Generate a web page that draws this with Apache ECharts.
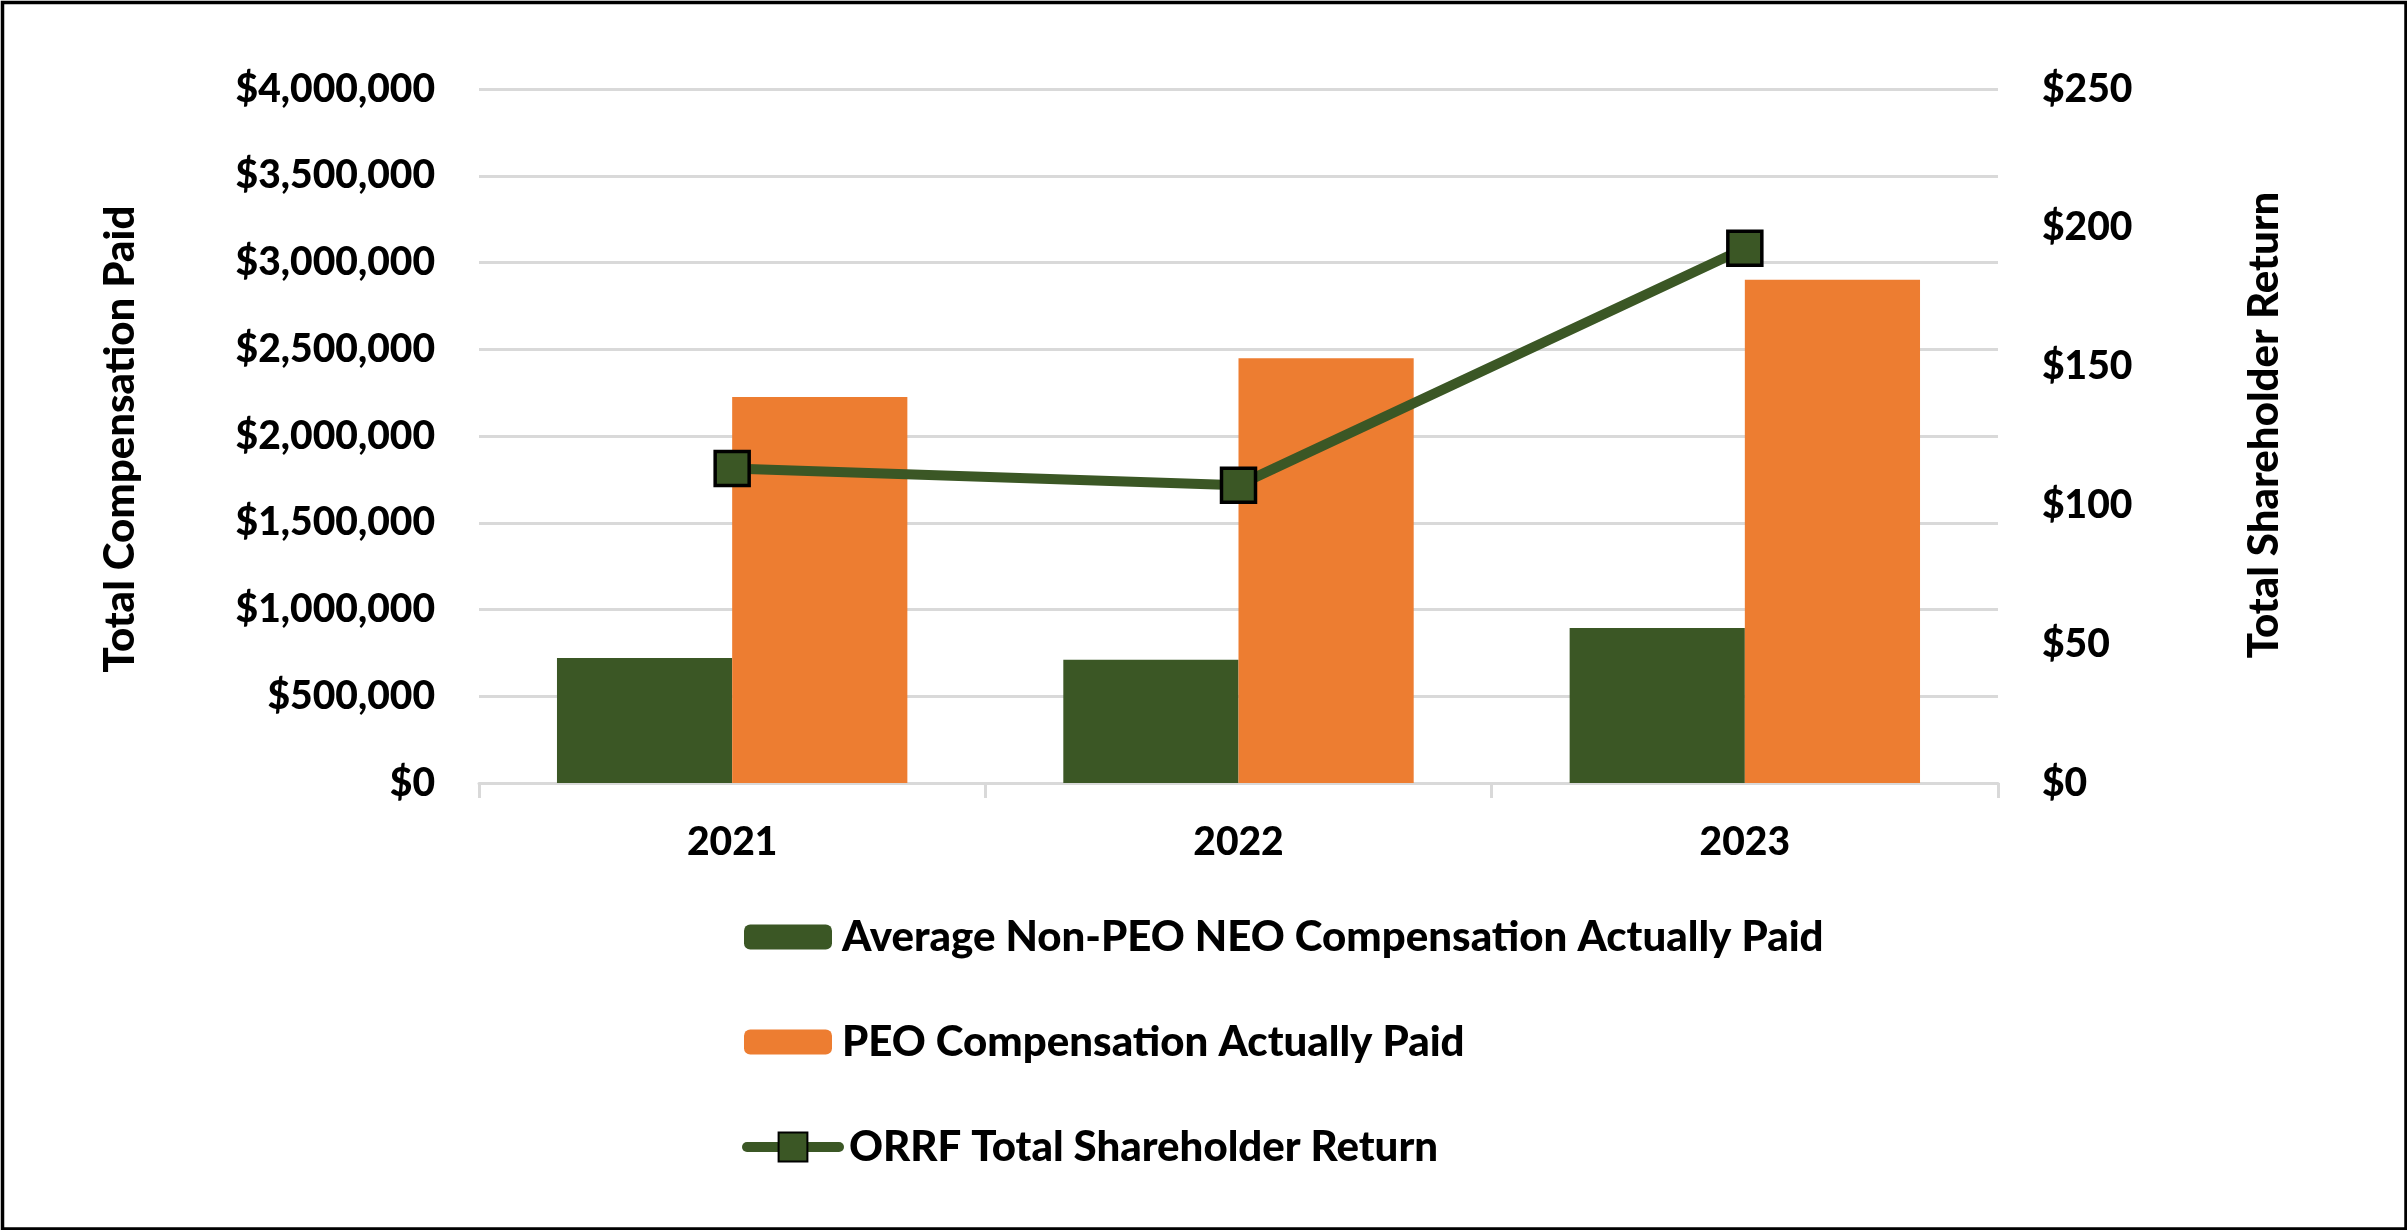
<!DOCTYPE html>
<html>
<head>
<meta charset="utf-8">
<script src="https://cdn.jsdelivr.net/npm/echarts@6/dist/echarts.min.js"></script>
<style>
html,body{margin:0;padding:0;background:#fff;}
#chart{width:2407px;height:1230px;}
</style>
</head>
<body>
<div id="chart"></div>
<script>
const categories = ['2021', '2022', '2023'];
const nonPeoComp = [721000, 710000, 894000];
const peoComp = [2225000, 2448000, 2900000];
const tsr = [113.3, 107.3, 192.6];
const leftTicks = {min: 0, max: 4000000, interval: 500000};
const rightTicks = {min: 0, max: 250, interval: 50};
const seriesNames = ['Average Non-PEO NEO Compensation Actually Paid', 'PEO Compensation Actually Paid', 'ORRF Total Shareholder Return'];
const axisTitles = ['Total Compensation Paid', 'Total Shareholder Return'];

const GREEN = '#3B5725';
const ORANGE = '#ED7D31';
const FONT = 'Lato';
const W = 900;

function money(v) {
  return '$' + Math.round(v).toString().replace(/\B(?=(\d{3})+(?!\d))/g, ',');
}

const chart = echarts.init(document.getElementById('chart'), null, {renderer: 'canvas'});

function legendAt(name, top, extra) {
  return Object.assign({
    data: [name],
    orient: 'vertical',
    left: 744,
    top: top,
    itemWidth: 88,
    itemHeight: 25,
    selectedMode: false,
    padding: 0,
    textStyle: {fontFamily: FONT, fontWeight: W, fontSize: 42, color: '#000', lineHeight: 44, padding: [0, 0, 0, 5]}
  }, extra || {});
}

chart.setOption({
  animation: false,
  backgroundColor: '#fff',
  grid: {left: 479, right: 409, top: 89, bottom: 447, containLabel: false},
  xAxis: {
    type: 'category',
    data: categories,
    axisLine: {show: true, lineStyle: {color: '#D9D9D9', width: 3}},
    axisTick: {show: true, length: 15, lineStyle: {color: '#D9D9D9', width: 3}},
    axisLabel: {fontFamily: FONT, fontWeight: W, fontSize: 39, color: '#000', margin: 40}
  },
  yAxis: [
    {
      type: 'value',
      min: leftTicks.min, max: leftTicks.max, interval: leftTicks.interval,
      axisLine: {show: false}, axisTick: {show: false},
      splitLine: {lineStyle: {color: '#D9D9D9', width: 3}},
      axisLabel: {fontFamily: FONT, fontWeight: W, fontSize: 39, color: '#000', margin: 44, formatter: money}
    },
    {
      type: 'value',
      min: rightTicks.min, max: rightTicks.max, interval: rightTicks.interval,
      position: 'right',
      axisLine: {show: false}, axisTick: {show: false},
      splitLine: {show: false},
      axisLabel: {fontFamily: FONT, fontWeight: W, fontSize: 39, color: '#000', margin: 44, formatter: money}
    }
  ],
  legend: [
    legendAt(seriesNames[0], 915),
    legendAt(seriesNames[1], 1020),
    legendAt(seriesNames[2], 1125, {itemHeight: 36, left: 742, itemWidth: 92, lineStyle: {width: 10, cap: 'round', color: GREEN}})
  ],
  graphic: [
    {type: 'rect', left: 0, top: 0, shape: {x: 1.75, y: 1.75, width: 2403.5, height: 1226.5}, style: {fill: 'none', stroke: '#000', lineWidth: 3.5}, silent: true},
    {type: 'text', x: 120, y: 439, rotation: Math.PI / 2, style: {text: axisTitles[0], fontFamily: FONT, fontWeight: W, fontSize: 42, fill: '#000', align: 'center', verticalAlign: 'middle'}},
    {type: 'text', x: 2264, y: 425, rotation: Math.PI / 2, style: {text: axisTitles[1], fontFamily: FONT, fontWeight: W, fontSize: 42, fill: '#000', align: 'center', verticalAlign: 'middle'}}
  ],
  series: [
    {
      name: seriesNames[0], type: 'bar', data: nonPeoComp, yAxisIndex: 0,
      barWidth: '34.6%', barGap: '0%',
      itemStyle: {color: GREEN}
    },
    {
      name: seriesNames[1], type: 'bar', data: peoComp, yAxisIndex: 0,
      barWidth: '34.6%', barGap: '0%',
      itemStyle: {color: ORANGE}
    },
    {
      name: seriesNames[2], type: 'line', data: tsr, yAxisIndex: 1,
      symbol: 'rect', symbolSize: 34,
      lineStyle: {color: GREEN, width: 10},
      itemStyle: {color: GREEN, borderColor: '#000', borderWidth: 3.5},
      z: 5
    }
  ]
});
</script>
</body>
</html>
